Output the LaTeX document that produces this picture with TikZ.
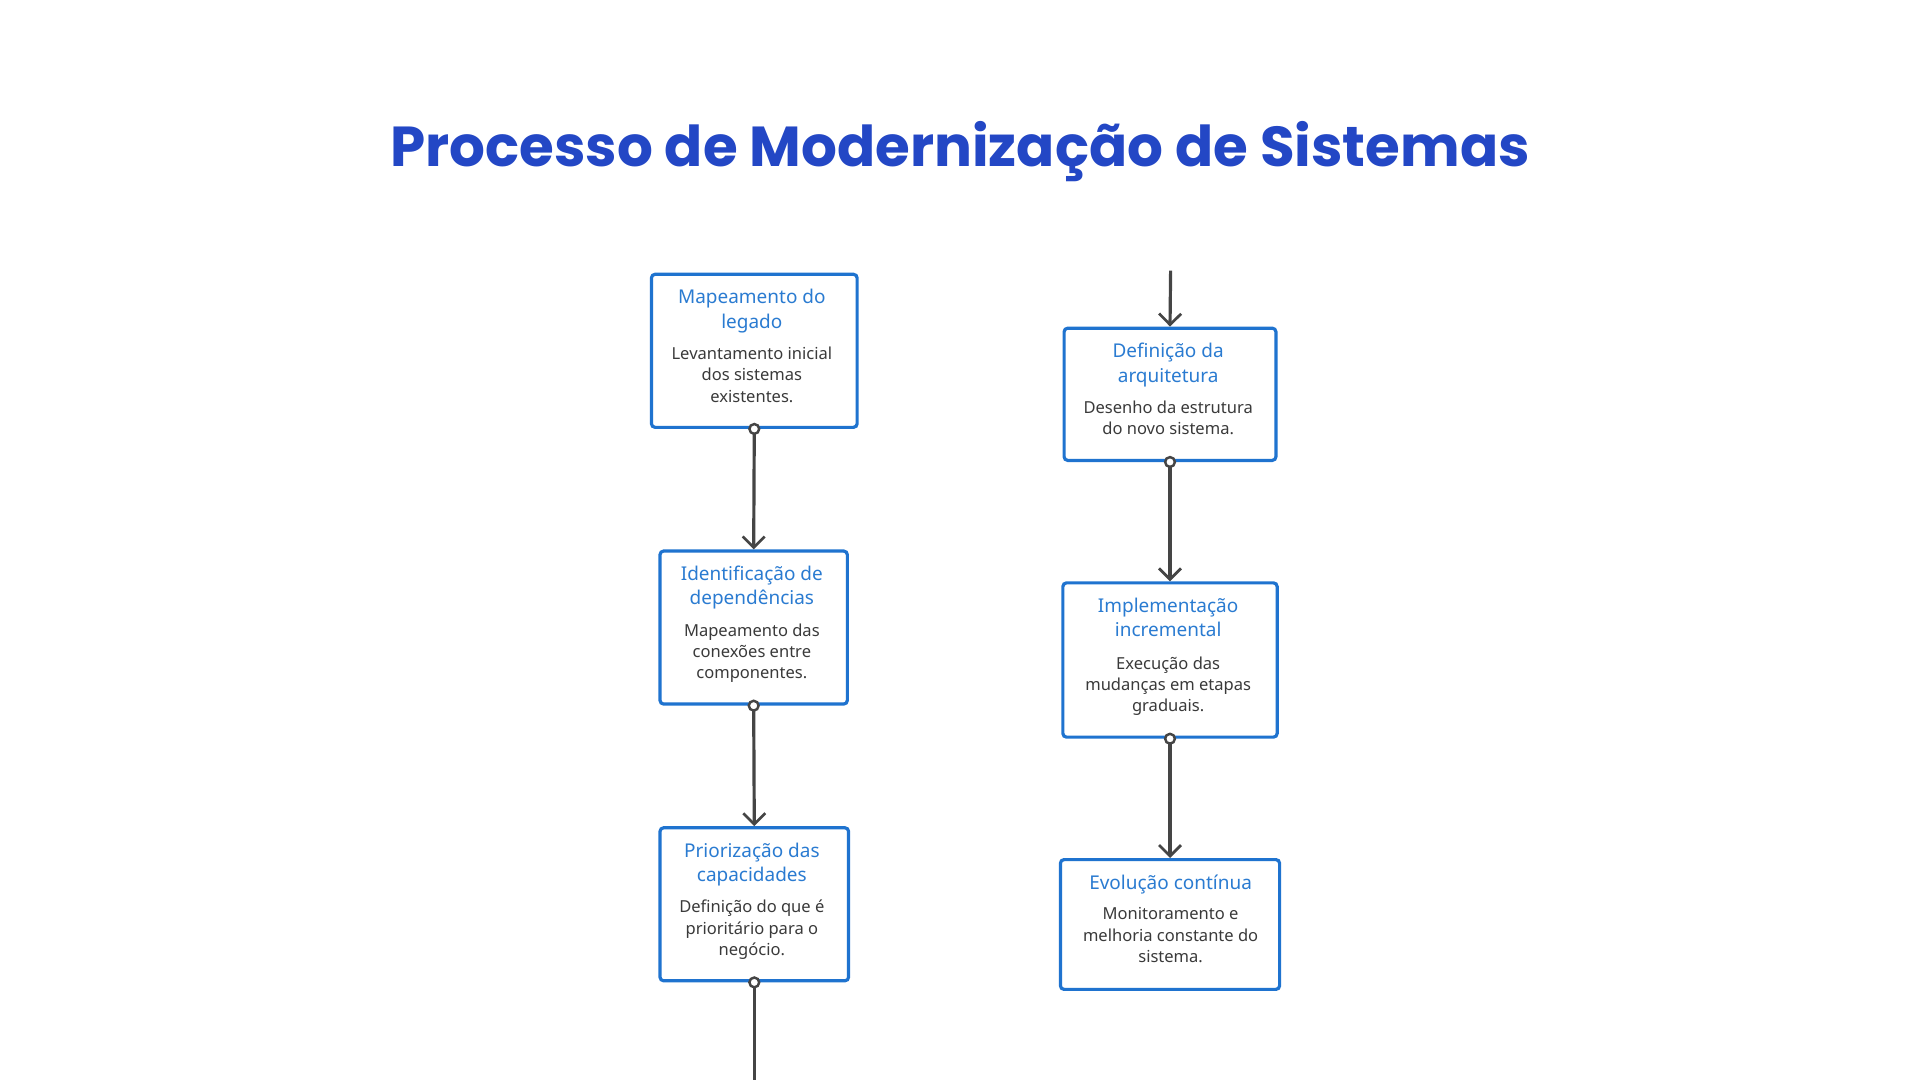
\documentclass[tikz,border=0pt]{standalone}
\usepackage{fontspec}
\setmainfont{Noto Sans}
\newfontfamily\titlefont{Poppins}
\usetikzlibrary{arrows.meta}
\definecolor{tblue}{HTML}{2347C5}
\definecolor{bblue}{HTML}{1F73CF}
\definecolor{hblue}{HTML}{2A7BD1}
\definecolor{body}{HTML}{3A3A3A}
\definecolor{conn}{HTML}{454545}
\begin{document}
\begin{tikzpicture}[x=1pt,y=-1pt,
 box/.style={draw=bblue,line width=2.6pt,rounded corners=3pt,fill=white,inner sep=0pt},
 txt/.style={align=center,inner sep=0pt,anchor=north},
 head/.style={txt,text=hblue,font=\fontsize{15.5}{20}\selectfont},
 bod/.style={txt,text=body,font=\fontsize{13.5}{17.5}\selectfont},
 conn/.style={draw=conn,line width=2.6pt,-{Straight Barb[length=9pt,width=18pt,line width=2.2pt]}},
 dot/.style={circle,draw=conn,line width=2pt,fill=white,minimum size=8pt,inner sep=0pt}]
\useasboundingbox (0,0) rectangle (1568,882);
\node[text=tblue,font=\titlefont\bfseries\fontsize{46}{52}\selectfont] (title) at (784,124) {Processo de Modernização de Sistemas};
% left column
\node[box,minimum width=168pt,minimum height=125pt] (A) at (616,286.5) {};
\node[head] (Ah) at (614,236) {Mapeamento do\\legado};
\node[bod] (Ab) at (614,283) {Levantamento inicial\\dos sistemas\\existentes.};
\node[box,minimum width=153pt,minimum height=125pt] (B) at (615.5,512.5) {};
\node[head] (Bh) at (614,462) {Identificação de\\dependências};
\node[bod] (Bb) at (614,509) {Mapeamento das\\conexões entre\\componentes.};
\node[box,minimum width=154pt,minimum height=125pt] (C) at (616,738.5) {};
\node[head] (Ch) at (614,688) {Priorização das\\capacidades};
\node[bod] (Cb) at (614,735) {Definição do que é\\prioritário para o\\negócio.};
% right column
\node[box,minimum width=173pt,minimum height=108pt] (D) at (955.5,322) {};
\node[head] (Dh) at (954,280) {Definição da\\arquitetura};
\node[bod] (Db) at (954,327) {Desenho da estrutura\\do novo sistema.};
\node[box,minimum width=175pt,minimum height=126pt] (E) at (955.5,539) {};
\node[head] (Eh) at (954,488) {Implementação\\incremental};
\node[bod] (Eb) at (954,536) {Execução das\\mudanças em etapas\\graduais.};
\node[box,minimum width=179pt,minimum height=106pt] (F) at (955.5,755) {};
\node[head] (Fh) at (956,714) {Evolução contínua};
\node[bod] (Fb) at (956,741) {Monitoramento e\\melhoria constante do\\sistema.};
\coordinate (Cend) at (616,882);
\coordinate (Dstart) at (956,221);
% connectors
\draw[conn] (A.south) -- (B.north);
\draw[conn] (B.south) -- (C.north);
\draw[draw=conn,line width=2.6pt] (C.south) -- (Cend);
\draw[conn] (Dstart) -- (D.north);
\draw[conn] (D.south) -- (E.north);
\draw[conn] (E.south) -- (F.north);
\node[dot] (dA) at (A.south) {};
\node[dot] (dB) at (B.south) {};
\node[dot] (dC) at (C.south) {};
\node[dot] (dD) at (D.south) {};
\node[dot] (dE) at (E.south) {};
\end{tikzpicture}
\end{document}
